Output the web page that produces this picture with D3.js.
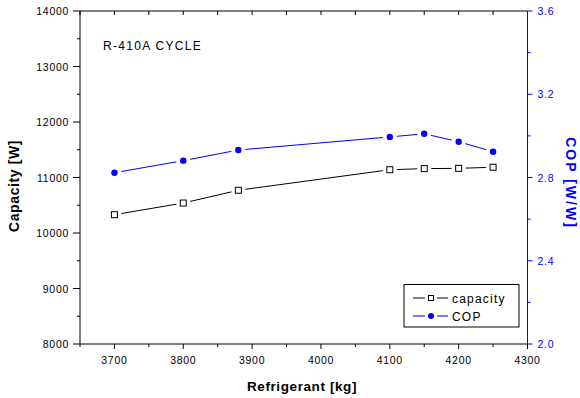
<!DOCTYPE html>
<html>
<head>
<meta charset="utf-8">
<script src="https://cdn.jsdelivr.net/npm/d3@7"></script>
<style>
  body { margin: 0; background: #fff; }
  text { font-family: "Liberation Sans", Arial, sans-serif; }
</style>
</head>
<body>
<div id="chart"></div>
<script>
// data
const refrigerant = [3700, 3800, 3880, 4100, 4150, 4200, 4250];
const capacity = [10330, 10540, 10770, 11140, 11160, 11165, 11185];
const cop = [2.823, 2.881, 2.932, 2.995, 3.01, 2.972, 2.924];
const xTicks = [3700, 3800, 3900, 4000, 4100, 4200, 4300];
const yLeftTicks = [8000, 9000, 10000, 11000, 12000, 13000, 14000];
const yRightTicks = [2.0, 2.4, 2.8, 3.2, 3.6];

const width = 580, height = 398;
const plotLeft = 80, plotRight = 527.5, plotTop = 11, plotBottom = 344;
const blue = "#0000ff";

const svg = d3.select("#chart").append("svg")
  .attr("width", width).attr("height", height);

const x = d3.scaleLinear().domain([3650, 4300]).range([plotLeft, plotRight]);
const yL = d3.scaleLinear().domain([8000, 14000]).range([plotBottom, plotTop]);
const yR = d3.scaleLinear().domain([2.0, 3.6]).range([plotBottom, plotTop]);

// minor ticks
const xMinor = d3.range(3650, 4301, 50);
const yLMinor = d3.range(8000, 14001, 500);
const yRMinor = d3.range(2.0, 3.61, 0.2);

// bottom axis
const gB = svg.append("g").attr("transform", `translate(0,${plotBottom})`);
gB.append("line").attr("x1", plotLeft).attr("x2", plotRight).attr("stroke", "#000");
gB.selectAll(".mn").data(xMinor).enter().append("line")
  .attr("x1", d => x(d)).attr("x2", d => x(d))
  .attr("y1", 0).attr("y2", d => xTicks.includes(d) ? 5 : 3).attr("stroke", "#000");
gB.selectAll("text").data(xTicks).enter().append("text")
  .attr("x", d => x(d)).attr("y", 20).attr("text-anchor", "middle")
  .attr("font-size", 10.5).attr("letter-spacing", 0.7).text(d => d);

// top axis (ticks inward)
const gT = svg.append("g").attr("transform", `translate(0,${plotTop})`);
gT.append("line").attr("x1", plotLeft).attr("x2", plotRight).attr("stroke", "#000");
gT.selectAll(".mn").data(xMinor).enter().append("line")
  .attr("x1", d => x(d)).attr("x2", d => x(d))
  .attr("y1", 0).attr("y2", 4).attr("stroke", "#000");

// left axis
const gL = svg.append("g").attr("transform", `translate(${plotLeft},0)`);
gL.append("line").attr("y1", plotTop).attr("y2", plotBottom).attr("stroke", "#000");
gL.selectAll(".mn").data(yLMinor).enter().append("line")
  .attr("y1", d => yL(d)).attr("y2", d => yL(d))
  .attr("x1", d => d % 1000 === 0 ? -7 : -3).attr("x2", 0).attr("stroke", "#000");
gL.selectAll("text").data(yLeftTicks).enter().append("text")
  .attr("x", -11).attr("y", d => yL(d) + 4).attr("text-anchor", "end")
  .attr("font-size", 10.5).attr("letter-spacing", 0.7).text(d => d);

// right axis (blue)
const gR = svg.append("g").attr("transform", `translate(${plotRight},0)`);
gR.append("line").attr("y1", plotTop).attr("y2", plotBottom).attr("stroke", blue);
gR.selectAll(".mn").data(yRMinor).enter().append("line")
  .attr("y1", d => yR(d)).attr("y2", d => yR(d))
  .attr("x1", 0).attr("x2", (d, i) => i % 2 === 0 ? 5 : 3).attr("stroke", blue);
gR.selectAll("text").data(yRightTicks).enter().append("text")
  .attr("x", 10).attr("y", d => yR(d) + 4).attr("fill", blue)
  .attr("font-size", 10.5).attr("letter-spacing", 0.7).text(d => d.toFixed(1));

// axis titles
svg.append("text").attr("transform", `translate(19,186) rotate(-90)`)
  .attr("text-anchor", "middle").attr("font-size", 14).attr("font-weight", "bold")
  .attr("letter-spacing", 0.6).text("Capacity [W]");
svg.append("text").attr("transform", `translate(566,183) rotate(90)`)
  .attr("text-anchor", "middle").attr("font-size", 14).attr("font-weight", "bold")
  .attr("letter-spacing", 2).attr("fill", blue).text("COP [W/W]");
svg.append("text").attr("x", 302).attr("y", 391)
  .attr("text-anchor", "middle").attr("font-size", 13.5).attr("font-weight", "bold")
  .attr("letter-spacing", 0.6).text("Refrigerant [kg]");

svg.append("text").attr("x", 103).attr("y", 50)
  .attr("font-size", 12).attr("letter-spacing", 1.3).text("R-410A CYCLE");

// gapped line segments between markers
function segments(pts, gap) {
  const out = [];
  for (let i = 0; i < pts.length - 1; i++) {
    const [x1, y1] = pts[i], [x2, y2] = pts[i + 1];
    const dx = x2 - x1, dy = y2 - y1, len = Math.hypot(dx, dy);
    const ux = dx / len, uy = dy / len;
    out.push([x1 + ux * gap, y1 + uy * gap, x2 - ux * gap, y2 - uy * gap]);
  }
  return out;
}

const capPts = refrigerant.map((r, i) => [x(r), yL(capacity[i])]);
const copPts = refrigerant.map((r, i) => [x(r), yR(cop[i])]);

svg.append("g").selectAll("line").data(segments(capPts, 7)).enter().append("line")
  .attr("x1", d => d[0]).attr("y1", d => d[1]).attr("x2", d => d[2]).attr("y2", d => d[3])
  .attr("stroke", "#000");
svg.append("g").selectAll("rect").data(capPts).enter().append("rect")
  .attr("x", d => d[0] - 3).attr("y", d => d[1] - 3).attr("width", 6).attr("height", 6)
  .attr("fill", "#fff").attr("stroke", "#000");

svg.append("g").selectAll("line").data(segments(copPts, 7)).enter().append("line")
  .attr("x1", d => d[0]).attr("y1", d => d[1]).attr("x2", d => d[2]).attr("y2", d => d[3])
  .attr("stroke", blue);
svg.append("g").selectAll("circle").data(copPts).enter().append("circle")
  .attr("cx", d => d[0]).attr("cy", d => d[1]).attr("r", 3.2).attr("fill", blue);

// legend
const lg = svg.append("g");
lg.append("rect").attr("x", 404).attr("y", 284.5).attr("width", 115).attr("height", 42.5)
  .attr("fill", "#fff").attr("stroke", "#000");
const legendItems = [
  { label: "capacity", color: "#000", y: 298, sym: "sq" },
  { label: "COP", color: blue, y: 316, sym: "ci" }
];
legendItems.forEach(it => {
  lg.append("line").attr("x1", 413).attr("x2", 425).attr("y1", it.y).attr("y2", it.y).attr("stroke", it.color);
  lg.append("line").attr("x1", 437).attr("x2", 448).attr("y1", it.y).attr("y2", it.y).attr("stroke", it.color);
  if (it.sym === "sq") {
    lg.append("rect").attr("x", 428.5).attr("y", it.y - 2.5).attr("width", 5).attr("height", 5)
      .attr("fill", "#fff").attr("stroke", "#000");
  } else {
    lg.append("circle").attr("cx", 431).attr("cy", it.y).attr("r", 3).attr("fill", blue);
  }
  lg.append("text").attr("x", 452).attr("y", it.y + 4.5).attr("font-size", 12)
    .attr("letter-spacing", 1.2).text(it.label);
});
</script>
</body>
</html>
